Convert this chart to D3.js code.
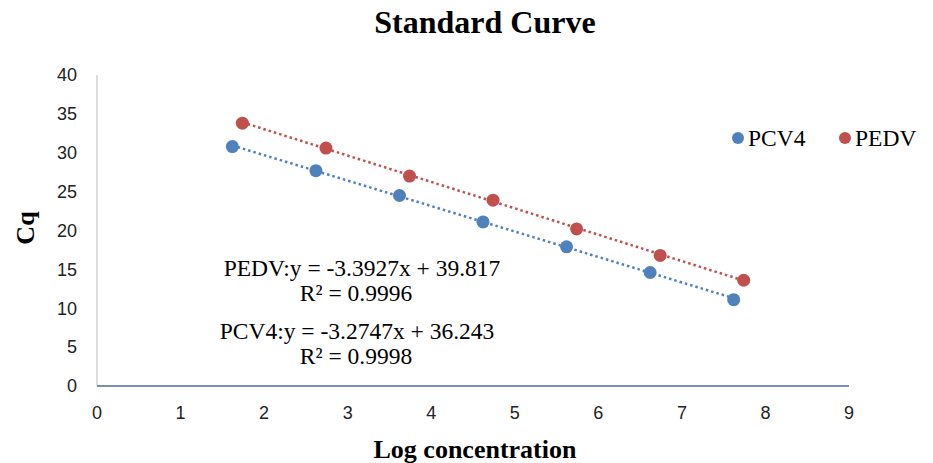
<!DOCTYPE html>
<html>
<head>
<meta charset="utf-8">
<script src="https://cdn.jsdelivr.net/npm/d3@7"></script>
<style>
  body { margin: 0; background: #fff; }
  svg { display: block; }
</style>
</head>
<body>
<div id="chart"></div>
<script>
// chart size and margins (plot area)
const width = 933;
const height = 463;
const margin = {left: 97, right: 84, top: 75, bottom: 77};

// data
const pcv4X = [1.62, 2.62, 3.62, 4.62, 5.62, 6.62, 7.62];
const pcv4Y = [30.8, 27.7, 24.5, 21.1, 17.9, 14.6, 11.1];
const pedvX = [1.74, 2.74, 3.74, 4.74, 5.74, 6.74, 7.74];
const pedvY = [33.8, 30.6, 27.0, 23.9, 20.2, 16.8, 13.6];
// trendline coefficients shown on the chart
const pcv4Fit = {slope: -3.2747, intercept: 36.243, r2: "0.9998"};
const pedvFit = {slope: -3.3927, intercept: 39.817, r2: "0.9996"};
const xTicks = [0, 1, 2, 3, 4, 5, 6, 7, 8, 9];
const yTicks = [0, 5, 10, 15, 20, 25, 30, 35, 40];

const blue = "#4f81bd";
const red = "#c0504d";
const serif = "'Liberation Serif', 'Times New Roman', serif";
const sans = "'Liberation Sans Narrow', 'Liberation Sans', Arial, sans-serif";

const svg = d3.select("#chart")
  .append("svg")
  .attr("width", width)
  .attr("height", height);

const x = d3.scaleLinear().domain([0, 9]).range([margin.left, width - margin.right]);
const y = d3.scaleLinear().domain([0, 40]).range([height - margin.bottom, margin.top]);

// title
svg.append("text")
  .attr("x", 485).attr("y", 33)
  .attr("text-anchor", "middle")
  .style("font-family", serif).style("font-weight", "bold").style("font-size", "32px")
  .text("Standard Curve");

// y axis line
svg.append("line")
  .attr("x1", x(0)).attr("x2", x(0))
  .attr("y1", y(40)).attr("y2", y(0))
  .attr("stroke", "#bfbfbf").attr("stroke-width", 1);

// x axis line
svg.append("line")
  .attr("x1", x(0)).attr("x2", x(9))
  .attr("y1", y(0)).attr("y2", y(0))
  .attr("stroke", "#4a6d9c").attr("stroke-width", 1.5);

// tick labels
svg.selectAll(".ytick")
  .data(yTicks)
  .enter().append("text")
  .attr("class", "ytick")
  .attr("x", 77).attr("y", d => y(d))
  .attr("dy", "0.35em")
  .attr("text-anchor", "end")
  .style("font-family", sans).style("font-size", "18px").attr("fill", "#222")
  .text(d => d);

svg.selectAll(".xtick")
  .data(xTicks)
  .enter().append("text")
  .attr("class", "xtick")
  .attr("x", d => x(d)).attr("y", 413)
  .attr("dy", "0.35em")
  .attr("text-anchor", "middle")
  .style("font-family", sans).style("font-size", "18px").attr("fill", "#222")
  .text(d => d);

// axis titles
svg.append("text")
  .attr("transform", "translate(34,228) rotate(-90)")
  .attr("text-anchor", "middle")
  .style("font-family", serif).style("font-weight", "bold").style("font-size", "26px")
  .text("Cq");

svg.append("text")
  .attr("x", 475).attr("y", 458)
  .attr("text-anchor", "middle")
  .style("font-family", serif).style("font-weight", "bold").style("font-size", "26px")
  .text("Log concentration");

// series: trendlines then markers
const series = [
  {xs: pcv4X, ys: pcv4Y, fit: pcv4Fit, color: blue},
  {xs: pedvX, ys: pedvY, fit: pedvFit, color: red}
];

series.forEach(s => {
  const x0 = d3.min(s.xs), x1 = d3.max(s.xs);
  svg.append("line")
    .attr("x1", x(x0)).attr("y1", y(s.fit.slope * x0 + s.fit.intercept))
    .attr("x2", x(x1)).attr("y2", y(s.fit.slope * x1 + s.fit.intercept))
    .attr("stroke", s.color).attr("stroke-width", 2.5)
    .attr("stroke-dasharray", "2.5 3");

  svg.append("g").selectAll("circle")
    .data(s.xs.map((v, i) => [v, s.ys[i]]))
    .enter().append("circle")
    .attr("cx", d => x(d[0])).attr("cy", d => y(d[1]))
    .attr("r", 6.5)
    .attr("fill", s.color);
});

// legend
const legend = [{name: "PCV4", color: blue, x: 738}, {name: "PEDV", color: red, x: 845}];
legend.forEach(l => {
  svg.append("circle").attr("cx", l.x).attr("cy", 138).attr("r", 6).attr("fill", l.color);
  svg.append("text")
    .attr("x", l.x + 10).attr("y", 146)
    .style("font-family", serif).style("font-size", "23.5px")
    .text(l.name);
});

// equations
const eqs = [
  {t: "PEDV:y = -3.3927x + 39.817", cx: 362, cy: 268},
  {t: "R² = " + pedvFit.r2, cx: 356, cy: 293},
  {t: "PCV4:y = -3.2747x + 36.243", cx: 357, cy: 331},
  {t: "R² = " + pcv4Fit.r2, cx: 356, cy: 356}
];
svg.selectAll(".eq")
  .data(eqs)
  .enter().append("text")
  .attr("class", "eq")
  .attr("x", d => d.cx).attr("y", d => d.cy)
  .attr("dy", "0.35em")
  .attr("text-anchor", "middle")
  .style("font-family", serif).style("font-size", "23.5px")
  .text(d => d.t);
</script>
</body>
</html>
